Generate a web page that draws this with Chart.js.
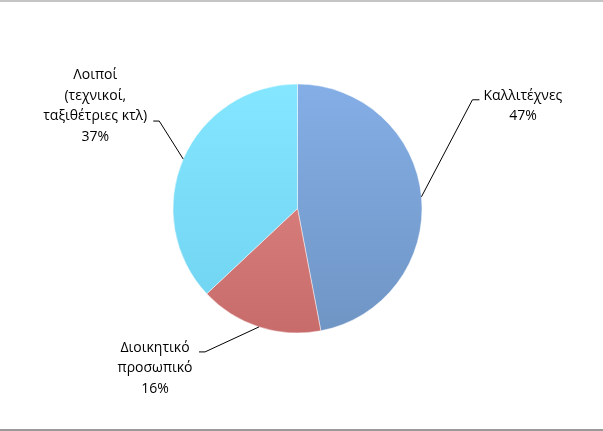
<!DOCTYPE html>
<html>
<head>
<meta charset="utf-8">
<script src="https://cdn.jsdelivr.net/npm/chart.js@4.4.1/dist/chart.umd.min.js"></script>
<style>
  html, body { margin: 0; padding: 0; background: #fff; }
  #wrap { position: relative; width: 603px; height: 431px;
          border-top: 2px solid #c4c4c4; border-bottom: 2px solid #9a9a9a; box-sizing: border-box; }
  canvas { display: block; }
</style>
</head>
<body>
<div id="wrap"><canvas id="myChart" width="603" height="427"></canvas></div>
<script>
// data
var categories = ['Καλλιτέχνες', 'Διοικητικό προσωπικό', 'Λοιποί (τεχνικοί, ταξιθέτριες κτλ)'];
var labelLines = [['Καλλιτέχνες'], ['Διοικητικό', 'προσωπικό'], ['Λοιποί', '(τεχνικοί,', 'ταξιθέτριες κτλ)']];
var values = [47, 16, 37];

// colours top -> bottom of each slice
var topColors = ['#84aee6', '#e48b87', '#84e6ff'];
var bottomColors = ['#6f95c4', '#c76c6b', '#6fd2f0'];

// label placement: elbow offset from arc mid point, horizontal tail, text offset from tail end
var leader = [
  { elbow: [51, -97], tail: 7, text: [43.5, -4] },
  { elbow: [-54, 25], tail: -6, text: [-44, -4] },
  { elbow: [-24, -38], tail: -6, text: [-58, -46] }
];

var total = values.reduce(function(a, b) { return a + b; }, 0);

function sliceFill(context) {
  var chart = context.chart;
  var area = chart.chartArea;
  if (!area) return topColors[context.dataIndex];
  var g = chart.ctx.createLinearGradient(0, area.top, 0, area.bottom);
  g.addColorStop(0, topColors[context.dataIndex]);
  g.addColorStop(1, bottomColors[context.dataIndex]);
  return g;
}

var labelPlugin = {
  id: 'leaderLabels',
  afterDraw: function(chart) {
    var ctx = chart.ctx;
    var arcs = chart.getDatasetMeta(0).data;
    ctx.save();
    arcs.forEach(function(arc, i) {
      var p = arc.getProps(['x', 'y', 'startAngle', 'endAngle', 'outerRadius'], true);
      var mid = (p.startAngle + p.endAngle) / 2;
      var ex = p.x + Math.cos(mid) * p.outerRadius;
      var ey = p.y + Math.sin(mid) * p.outerRadius;
      var L = leader[i];
      var bx = ex + L.elbow[0], by = ey + L.elbow[1];
      var tx = bx + L.tail;
      ctx.strokeStyle = '#000';
      ctx.lineWidth = 1;
      ctx.beginPath();
      ctx.moveTo(ex, ey);
      ctx.lineTo(bx, by);
      ctx.lineTo(tx, by);
      ctx.stroke();

      var lines = labelLines[i].concat([Math.round(values[i] / total * 100) + '%']);
      ctx.fillStyle = '#000';
      ctx.font = '14px "Open Sans", sans-serif';
      ctx.textAlign = 'center';
      ctx.textBaseline = 'middle';
      var cx = tx + L.text[0];
      var cy = by + L.text[1];
      lines.forEach(function(s, k) {
        ctx.fillText(s, cx, cy + k * 20.5);
      });
    });
    ctx.restore();
  }
};

var chart = new Chart(document.getElementById('myChart'), {
  type: 'pie',
  data: {
    labels: categories,
    datasets: [{
      data: values,
      backgroundColor: sliceFill,
      borderColor: 'rgba(255,255,255,0.45)',
      borderWidth: 1
    }]
  },
  options: {
    responsive: false,
    animation: false,
    layout: { padding: { left: 172.5, right: 180.5, top: 81.5, bottom: 95.5 } },
    plugins: {
      legend: { display: false },
      tooltip: { enabled: false }
    }
  },
  plugins: [labelPlugin]
});
</script>
</body>
</html>
